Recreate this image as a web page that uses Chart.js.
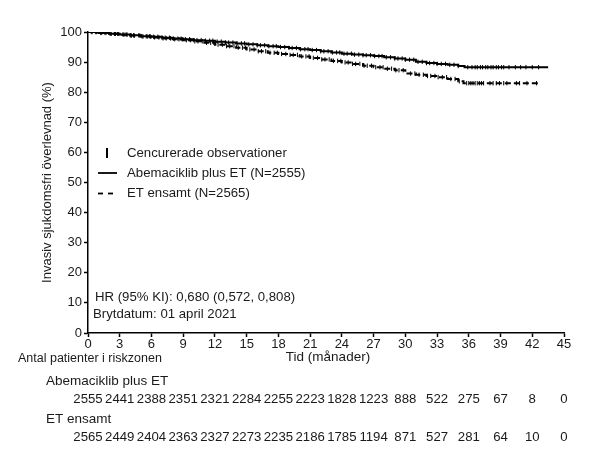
<!DOCTYPE html>
<html>
<head>
<meta charset="utf-8">
<script src="https://cdn.jsdelivr.net/npm/chart.js@4.4.1/dist/chart.umd.min.js"></script>
<style>
  body { margin: 0; background: #fff; }
</style>
</head>
<body>
<canvas id="kmChart" width="613" height="455"></canvas>
<script>
// Kaplan-Meier step points (months, % survival)
const abemaTimes = [0, 1, 2, 3, 4, 5, 6, 7, 8, 9, 10, 11, 12, 13, 14, 15, 16, 17, 18, 19, 20, 21, 22, 23, 24, 25, 26, 27, 28, 29, 30, 31, 32, 33, 34, 35, 35.6, 43.5];
const abemaSurvival = [100, 99.7, 99.4, 99.2, 98.9, 98.6, 98.4, 98.1, 97.8, 97.6, 97.3, 97.1, 96.8, 96.5, 96.2, 95.9, 95.6, 95.3, 95.0, 94.7, 94.3, 94.0, 93.6, 93.2, 92.8, 92.5, 92.3, 92.0, 91.6, 91.2, 90.8, 90.1, 89.7, 89.4, 89.1, 88.7, 88.3, 88.3];

const etTimes = [0, 1, 2, 3, 4, 5, 6, 7, 8, 9, 10, 11, 12, 13, 14, 15, 16, 17, 18, 19, 20, 21, 22, 23, 24, 25, 26, 27, 28, 29, 30, 31, 32, 33, 34, 35, 35.5, 42.8];
const etSurvival = [100, 99.7, 99.4, 99.1, 98.8, 98.5, 98.2, 97.9, 97.6, 97.3, 96.9, 96.4, 95.8, 95.3, 94.8, 94.2, 93.6, 93.1, 92.7, 92.4, 91.9, 91.4, 90.9, 90.4, 89.9, 89.4, 88.8, 88.3, 87.8, 87.3, 86.2, 85.8, 85.4, 85.0, 84.4, 83.6, 83.0, 83.0];

// censored observations (months)
const abemaCensor = [0.3, 0.7, 1.2, 1.6, 2.1, 2.5, 2.8, 3.3, 3.6, 4.0, 4.3, 4.8, 5.1, 5.5, 5.8, 6.2, 6.6, 7.0, 7.3, 7.7, 8.1, 8.5, 8.8, 9.2, 9.6, 10.0, 10.3, 10.7, 11.1, 11.5, 11.8, 12.2, 12.6, 13.0, 13.3, 13.7, 14.1, 14.5, 14.8, 15.2, 15.6, 16.0, 16.3, 16.7, 17.1, 17.5, 17.8, 18.2, 18.6, 19.0, 19.3, 19.7, 20.1, 20.5, 20.8, 21.2, 21.6, 22.0, 22.3, 22.7, 23.1, 23.5, 23.8, 24.2, 24.5, 24.9, 25.2, 25.6, 26.0, 26.3, 26.7, 27.1, 27.5, 27.8, 28.2, 28.6, 29.0, 29.3, 29.7, 30.0, 30.4, 30.8, 31.2, 31.6, 32.0, 32.3, 32.7, 33.0, 33.4, 33.8, 34.2, 34.6, 35.0, 35.9, 36.3, 36.6, 36.8, 37.1, 37.3, 37.6, 37.8, 38.1, 38.3, 38.6, 38.8, 39.1, 39.3, 39.8, 40.4, 40.9, 41.4, 42.0, 42.6];
const etCensor = [0.4, 0.8, 1.3, 1.7, 2.2, 2.6, 2.9, 3.4, 3.7, 4.1, 4.4, 4.9, 5.2, 5.6, 5.9, 6.3, 6.7, 7.1, 7.4, 7.8, 8.2, 8.6, 8.9, 9.3, 9.7, 10.1, 10.4, 10.8, 11.2, 11.6, 11.9, 12.3, 12.7, 13.1, 13.4, 13.8, 14.2, 14.6, 14.9, 15.3, 15.7, 16.1, 16.4, 16.8, 17.2, 17.6, 17.9, 18.3, 18.7, 19.1, 19.4, 19.8, 20.2, 20.6, 20.9, 21.3, 21.7, 22.1, 22.4, 22.8, 23.2, 23.6, 23.9, 24.3, 24.6, 25.0, 25.3, 25.7, 26.1, 26.4, 26.8, 27.2, 27.6, 27.9, 28.3, 28.7, 29.1, 29.4, 29.8, 30.5, 30.9, 31.3, 31.7, 32.1, 32.4, 32.8, 33.1, 33.5, 33.9, 34.3, 34.7, 35.1, 35.8, 36.0, 36.2, 36.4, 36.6, 36.8, 37.0, 37.2, 37.4, 38.0, 38.3, 38.6, 38.9, 39.3, 39.6, 40.5, 40.8, 41.5, 42.4];

// number at risk
const riskTimes = [0, 3, 6, 9, 12, 15, 18, 21, 24, 27, 30, 33, 36, 39, 42, 45];
const abemaAtRisk = [2555, 2441, 2388, 2351, 2321, 2284, 2255, 2223, 1828, 1223, 888, 522, 275, 67, 8, 0];
const etAtRisk = [2565, 2449, 2404, 2363, 2327, 2273, 2235, 2186, 1785, 1194, 871, 527, 281, 64, 10, 0];

const FONT = "'Liberation Sans', Arial, sans-serif";
const TEXT = '#1a1a1a';

function toPoints(times, values) {
    let pts = [];
    for (let i = 0; i < times.length; i++) {
        pts.push({ x: times[i], y: values[i] });
    }
    return pts;
}

function stepValue(times, values, t) {
    let v = values[0];
    for (let i = 0; i < times.length; i++) {
        if (times[i] <= t) v = values[i];
    }
    return v;
}

function censorPoints(censor, times, values) {
    let pts = [];
    for (let i = 0; i < censor.length; i++) {
        pts.push({ x: censor[i], y: stepValue(times, values, censor[i]) });
    }
    return pts;
}

// all the text around the plot, plus the legend inside it
const textPlugin = {
    id: 'kmText',
    afterDraw(chart) {
        const ctx = chart.ctx;
        const x = chart.scales.x;
        const area = chart.chartArea;
        ctx.save();
        ctx.fillStyle = TEXT;
        ctx.textBaseline = 'middle';

        // y title
        ctx.save();
        ctx.translate(47, (area.top + area.bottom) / 2);
        ctx.rotate(-Math.PI / 2);
        ctx.textAlign = 'center';
        ctx.font = '13px ' + FONT;
        ctx.fillText('Invasiv sjukdomsfri överlevnad (%)', 0, 0);
        ctx.restore();

        // x title
        ctx.font = '13.5px ' + FONT;
        ctx.textAlign = 'center';
        ctx.fillText('Tid (månader)', (area.left + area.right) / 2 + 2, 357);

        // risk table
        ctx.textAlign = 'left';
        ctx.font = '12.5px ' + FONT;
        ctx.fillText('Antal patienter i riskzonen', 18, 359);
        ctx.font = '13.5px ' + FONT;
        ctx.fillText('Abemaciklib plus ET', 46, 381);
        ctx.fillText('ET ensamt', 46, 419);
        ctx.font = '13.2px ' + FONT;
        ctx.textAlign = 'center';
        for (let i = 0; i < riskTimes.length; i++) {
            let px = x.getPixelForValue(riskTimes[i]);
            ctx.fillText(String(abemaAtRisk[i]), px, 399);
            ctx.fillText(String(etAtRisk[i]), px, 437);
        }

        // legend
        ctx.textAlign = 'left';
        ctx.font = '13.2px ' + FONT;
        ctx.strokeStyle = '#000';
        ctx.lineWidth = 2;
        ctx.beginPath();
        ctx.moveTo(107, 148);
        ctx.lineTo(107, 158);
        ctx.stroke();
        ctx.fillText('Cencurerade observationer', 127, 153);

        ctx.lineWidth = 1.8;
        ctx.beginPath();
        ctx.moveTo(98, 173);
        ctx.lineTo(117, 173);
        ctx.stroke();
        ctx.fillText('Abemaciklib plus ET (N=2555)', 127, 173);

        ctx.setLineDash([5, 5]);
        ctx.beginPath();
        ctx.moveTo(98, 193.5);
        ctx.lineTo(117, 193.5);
        ctx.stroke();
        ctx.setLineDash([]);
        ctx.fillText('ET ensamt (N=2565)', 127, 193.5);

        // hazard ratio note
        ctx.fillText('HR (95% KI): 0,680 (0,572, 0,808)', 95, 297);
        ctx.fillText('Brytdatum: 01 april 2021', 93, 314);
        ctx.restore();
    }
};

let data = {
    datasets: [
        {
            label: 'Abemaciklib plus ET',
            data: toPoints(abemaTimes, abemaSurvival),
            borderColor: '#000',
            borderWidth: 2,
            stepped: true,
            pointRadius: 0,
            fill: false
        },
        {
            label: 'ET ensamt',
            data: toPoints(etTimes, etSurvival),
            borderColor: '#000',
            borderWidth: 2,
            borderDash: [6, 3],
            stepped: true,
            pointRadius: 0,
            fill: false
        },
        {
            label: 'Censur abemaciklib',
            data: censorPoints(abemaCensor, abemaTimes, abemaSurvival),
            showLine: false,
            pointStyle: 'line',
            rotation: 90,
            pointRadius: 2.2,
            borderColor: '#000',
            borderWidth: 1
        },
        {
            label: 'Censur ET',
            data: censorPoints(etCensor, etTimes, etSurvival),
            showLine: false,
            pointStyle: 'line',
            rotation: 90,
            pointRadius: 2.2,
            borderColor: '#000',
            borderWidth: 1
        }
    ]
};

let config = {
    type: 'line',
    data,
    options: {
        responsive: false,
        animation: false,
        events: [],
        layout: { padding: { left: 0, right: 49, top: 32, bottom: 0 } },
        plugins: {
            legend: { display: false },
            tooltip: { enabled: false }
        },
        scales: {
            x: {
                type: 'linear',
                min: 0,
                max: 45,
                afterFit(scale) { scale.height = 122; },
                border: { color: '#000', width: 1.5 },
                grid: { drawOnChartArea: false, drawTicks: true, tickLength: 4, tickColor: '#000', tickWidth: 1.5 },
                ticks: { stepSize: 3, color: TEXT, font: { family: FONT, size: 13 }, padding: 0, maxRotation: 0 }
            },
            y: {
                min: 0,
                max: 100,
                afterFit(scale) { scale.width = 88; },
                border: { color: '#000', width: 1.5 },
                grid: { drawOnChartArea: false, drawTicks: true, tickLength: 4, tickColor: '#000', tickWidth: 1.5 },
                ticks: { stepSize: 10, color: TEXT, font: { family: FONT, size: 13 }, padding: 2 }
            }
        }
    },
    plugins: [textPlugin]
};

let kmChart = new Chart(document.getElementById('kmChart'), config);
</script>
</body>
</html>
